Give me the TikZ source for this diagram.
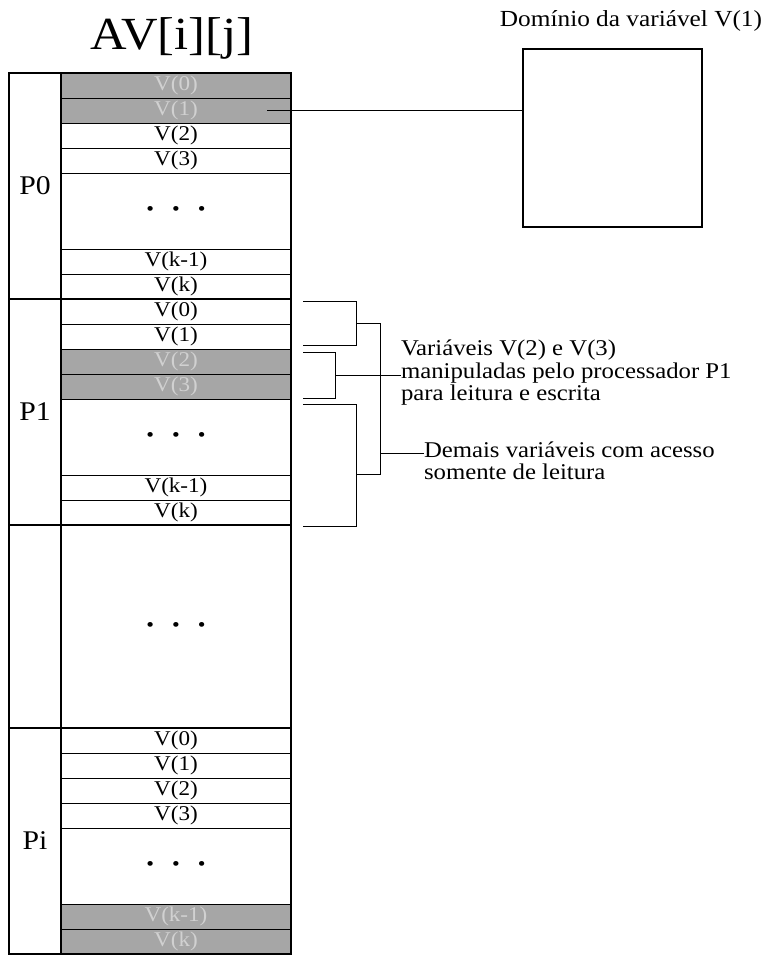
\documentclass[tikz,border=0pt]{standalone}
\usepackage{fontspec}
\setmainfont[FakeStretch=1.1]{Liberation Serif}
\usepackage{tikz}
\usetikzlibrary{calc, positioning}

\newcommand{\tresdots}{{\fontsize{20}{20}\selectfont\textbullet\hspace{18pt}\textbullet\hspace{18pt}\textbullet}}

\begin{document}
\begin{tikzpicture}[
    x=1pt, y=-1pt,
    node distance=0pt,
    every node/.style={inner sep=0pt, outer sep=0pt},
    cell/.style={draw, line width=0.8pt, minimum width=230pt, minimum height=25pt,
        font=\fontsize{21}{21}\selectfont},
    dotcell/.style={cell, minimum height=76pt},
    shaded/.style={cell, fill=black!35, text=black!18},
    proc/.style={draw, line width=1.6pt, minimum width=52pt, minimum height=226pt,
        anchor=north west, font=\fontsize{27}{27}\selectfont},
    frame/.style={line width=1.6pt},
    note/.style={anchor=west, align=left, font=\fontsize{22.5}{22.5}\selectfont},
    bracket/.style={line width=0.8pt},
    link/.style={line width=1.2pt},
]
\useasboundingbox (0,0) rectangle (763,957);

% Titulo
\node[font=\fontsize{46}{46}\selectfont] (title) at (172,38) {AV[i][j]};

% Bloco P0
\node[proc] (p0) at (9,73) {P0};
\node[shaded, anchor=north west] (p0v0) at (61,73) {V(0)};
\node[shaded, below=of p0v0] (p0v1) {V(1)};
\node[cell, below=of p0v1] (p0v2) {V(2)};
\node[cell, below=of p0v2] (p0v3) {V(3)};
\node[dotcell, below=of p0v3] (p0dots) {\tresdots};
\node[cell, below=of p0dots] (p0vk1) {V(k-1)};
\node[cell, below=of p0vk1] (p0vk) {V(k)};
\draw[frame] (p0v0.north west) rectangle (p0vk.south east);

% Bloco P1
\node[proc] (p1) at (9,299) {P1};
\node[cell, below=of p0vk] (p1v0) {V(0)};
\node[cell, below=of p1v0] (p1v1) {V(1)};
\node[shaded, below=of p1v1] (p1v2) {V(2)};
\node[shaded, below=of p1v2] (p1v3) {V(3)};
\node[dotcell, below=of p1v3] (p1dots) {\tresdots};
\node[cell, below=of p1dots] (p1vk1) {V(k-1)};
\node[cell, below=of p1vk1] (p1vk) {V(k)};
\draw[frame] (p1v0.north west) rectangle (p1vk.south east);

% Bloco intermediario
\node[proc, minimum height=203pt] (pmid) at (9,525) {};
\node[cell, frame, minimum height=203pt, below=of p1vk] (mid) {\tresdots};

% Bloco Pi
\node[proc] (pi) at (9,728) {Pi};
\node[cell, below=of mid] (piv0) {V(0)};
\node[cell, below=of piv0] (piv1) {V(1)};
\node[cell, below=of piv1] (piv2) {V(2)};
\node[cell, below=of piv2] (piv3) {V(3)};
\node[dotcell, below=of piv3] (pidots) {\tresdots};
\node[shaded, below=of pidots] (pivk1) {V(k-1)};
\node[shaded, below=of pivk1] (pivk) {V(k)};
\draw[frame] (piv0.north west) rectangle (pivk.south east);

% Dominio de V(1)
\node[draw, line width=1.2pt, minimum width=179pt, minimum height=178pt,
    anchor=north west] (dom) at (523,49) {};
\node[font=\fontsize{23}{23}\selectfont] (domlabel) at (631,21) {Domínio da variável V(1)};
\coordinate (tap) at ($(p0v1.east)+(-24,0)$);
\draw[link] (tap) -- (tap -| dom.west);

% Notas
\node[note] (note1) at (401,373)
    {Variáveis V(2) e V(3)\\manipuladas pelo processador P1\\para leitura e escrita};
\node[note] (note2) at (424,461)
    {Demais variáveis com acesso\\somente de leitura};

% Chaves
\coordinate (a1) at ($(p1v0.north east)+(12,2)$);
\coordinate (a2) at ($(p1v1.south east)+(12,-4)$);
\coordinate (b1) at ($(p1v2.north east)+(12,3)$);
\coordinate (b2) at ($(p1v3.south east)+(12,-1)$);
\coordinate (c1) at ($(p1dots.north east)+(12,5)$);
\coordinate (c2) at ($(p1vk.south east)+(12,1)$);
\draw[bracket] (a1) -- ++(53,0) |- (a2);
\draw[bracket] (b1) -- ++(32,0) |- (b2);
\draw[bracket] (c1) -- ++(53,0) |- (c2);
\coordinate (am) at ($(a1)!0.5!(a2)+(53,0)$);
\coordinate (bm) at ($(b1)!0.5!(b2)+(32,0)$);
\coordinate (cm) at ($(c1)+(53,70)$);
\draw[bracket] (bm) -- (bm -| note1.west);
\draw[bracket] (am) -- ++(24,0) |- (cm);
\coordinate (jm) at ($(am)+(24,130)$);
\draw[bracket] (jm) -- (jm -| note2.west);
\end{tikzpicture}
\end{document}
